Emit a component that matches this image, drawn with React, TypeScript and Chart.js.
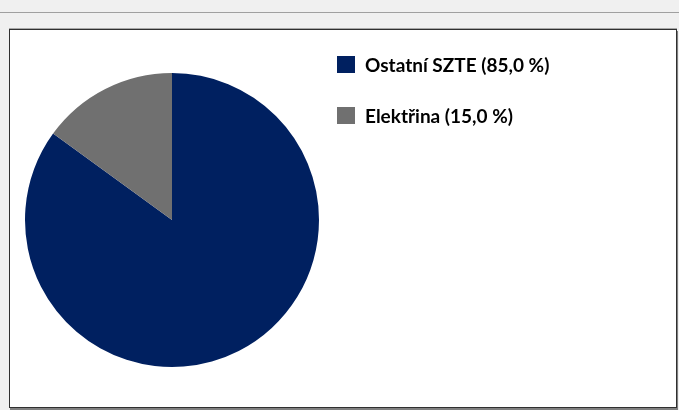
import React, { useEffect, useRef } from "react";
import { Chart, registerables } from "chart.js";

Chart.register(...registerables);

const categories = ["Ostatní SZTE", "Elektřina"];
const shares = [85.0, 15.0];
const colors = ["#002060", "#707070"];

const fmt = (v: number) => v.toFixed(1).replace(".", ",");
const legendLabels = categories.map((c, i) => `${c} (${fmt(shares[i])} %)`);

const legendPlugin = {
  id: "sideLegend",
  afterDraw(chart: any) {
    const ctx = chart.ctx;
    const ds = chart.data.datasets[0];
    ctx.save();
    ctx.font = "bold 19px Lato";
    ctx.textBaseline = "alphabetic";
    ctx.textAlign = "left";
    (chart.data.labels as string[]).forEach((lab: string, i: number) => {
      const y = 26 + i * 51;
      ctx.fillStyle = ds.backgroundColor[i];
      ctx.fillRect(327, y, 18, 17);
      ctx.fillStyle = "#000000";
      ctx.fillText(lab, 355, y + 16);
    });
    ctx.restore();
  },
};

export default function App() {
  const ref = useRef<HTMLCanvasElement | null>(null);

  useEffect(() => {
    document.body.style.margin = "0";
    if (!ref.current) return;
    const chart = new Chart(ref.current, {
      type: "pie",
      data: {
        labels: legendLabels,
        datasets: [
          {
            data: shares,
            backgroundColor: colors,
            borderWidth: 0,
          },
        ],
      },
      options: {
        animation: false,
        responsive: true,
        maintainAspectRatio: false,
        layout: { padding: { left: 15, top: 43, right: 357, bottom: 40 } },
        plugins: {
          legend: { display: false },
          tooltip: { enabled: false },
        },
      },
      plugins: [legendPlugin],
    });
    return () => chart.destroy();
  }, []);

  return (
    <div
      style={{
        position: "relative",
        width: 679,
        height: 410,
        background: "#f0f0f0",
        overflow: "hidden",
      }}
    >
      <div
        style={{
          position: "absolute",
          left: 0,
          top: 12,
          width: 679,
          height: 1,
          background: "#a0a0a0",
        }}
      />
      <div
        style={{
          position: "absolute",
          left: 9,
          top: 29,
          width: 666,
          height: 377,
          background: "#ffffff",
          border: "1px solid #303030",
          boxShadow: "1px 2px 0 #808080, 0 -1px 0 #a8a8a8",
        }}
      >
        <div style={{ position: "relative", width: 666, height: 377 }}>
          <canvas ref={ref} />
        </div>
      </div>
    </div>
  );
}
